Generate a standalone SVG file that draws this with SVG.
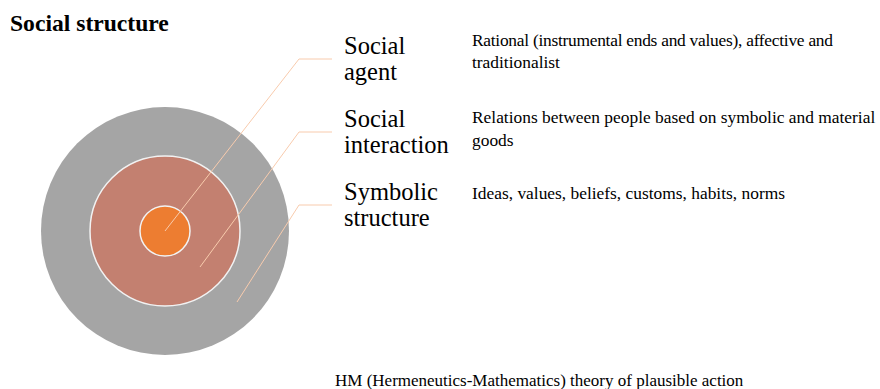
<svg xmlns="http://www.w3.org/2000/svg" width="880" height="389" viewBox="0 0 880 389">
<style>
.t{font-family:"Liberation Serif","Times New Roman",serif;fill:#000}
.title{font-size:23.6px;font-weight:bold}
.lbl{font-size:24.5px}
.desc{font-size:17.4px}
.foot{font-size:17px}
.con{fill:none;stroke:#f8cbad;stroke-width:1}
</style>
<rect width="880" height="389" fill="#fff"/>
<text class="t title" x="10" y="31">Social structure</text>
<g id="outer"><circle cx="165" cy="231" r="124" fill="#a5a5a5"/></g>
<g id="middle"><circle cx="165" cy="231" r="75" fill="#c38070" stroke="#f2f2f2" stroke-width="1.5"/></g>
<g id="inner"><circle cx="165" cy="231" r="25" fill="#ed7d31" stroke="#f2f2f2" stroke-width="1.5"/></g>
<g id="connectors">
<polyline class="con" points="165,231 299,59 332,59"/>
<polyline class="con" points="200,267 299,132 332,132"/>
<polyline class="con" points="237,302 299,205 332,205"/>
</g>
<g id="agent">
<text class="t lbl" x="344" y="54">Social</text>
<text class="t lbl" x="344" y="80">agent</text>
<text class="t desc" x="472" y="46" textLength="361" lengthAdjust="spacing">Rational (instrumental ends and values), affective and</text>
<text class="t desc" x="472" y="68">traditionalist</text>
</g>
<g id="interaction">
<text class="t lbl" x="344" y="127">Social</text>
<text class="t lbl" x="344" y="153">interaction</text>
<text class="t desc" x="472" y="123">Relations between people based on symbolic and material</text>
<text class="t desc" x="472" y="146">goods</text>
</g>
<g id="symbolic">
<text class="t lbl" x="344" y="200">Symbolic</text>
<text class="t lbl" x="344" y="226">structure</text>
<text class="t desc" x="472" y="199">Ideas, values, beliefs, customs, habits, norms</text>
</g>
<text class="t foot" x="335" y="386">HM (Hermeneutics-Mathematics) theory of plausible action</text>
</svg>
